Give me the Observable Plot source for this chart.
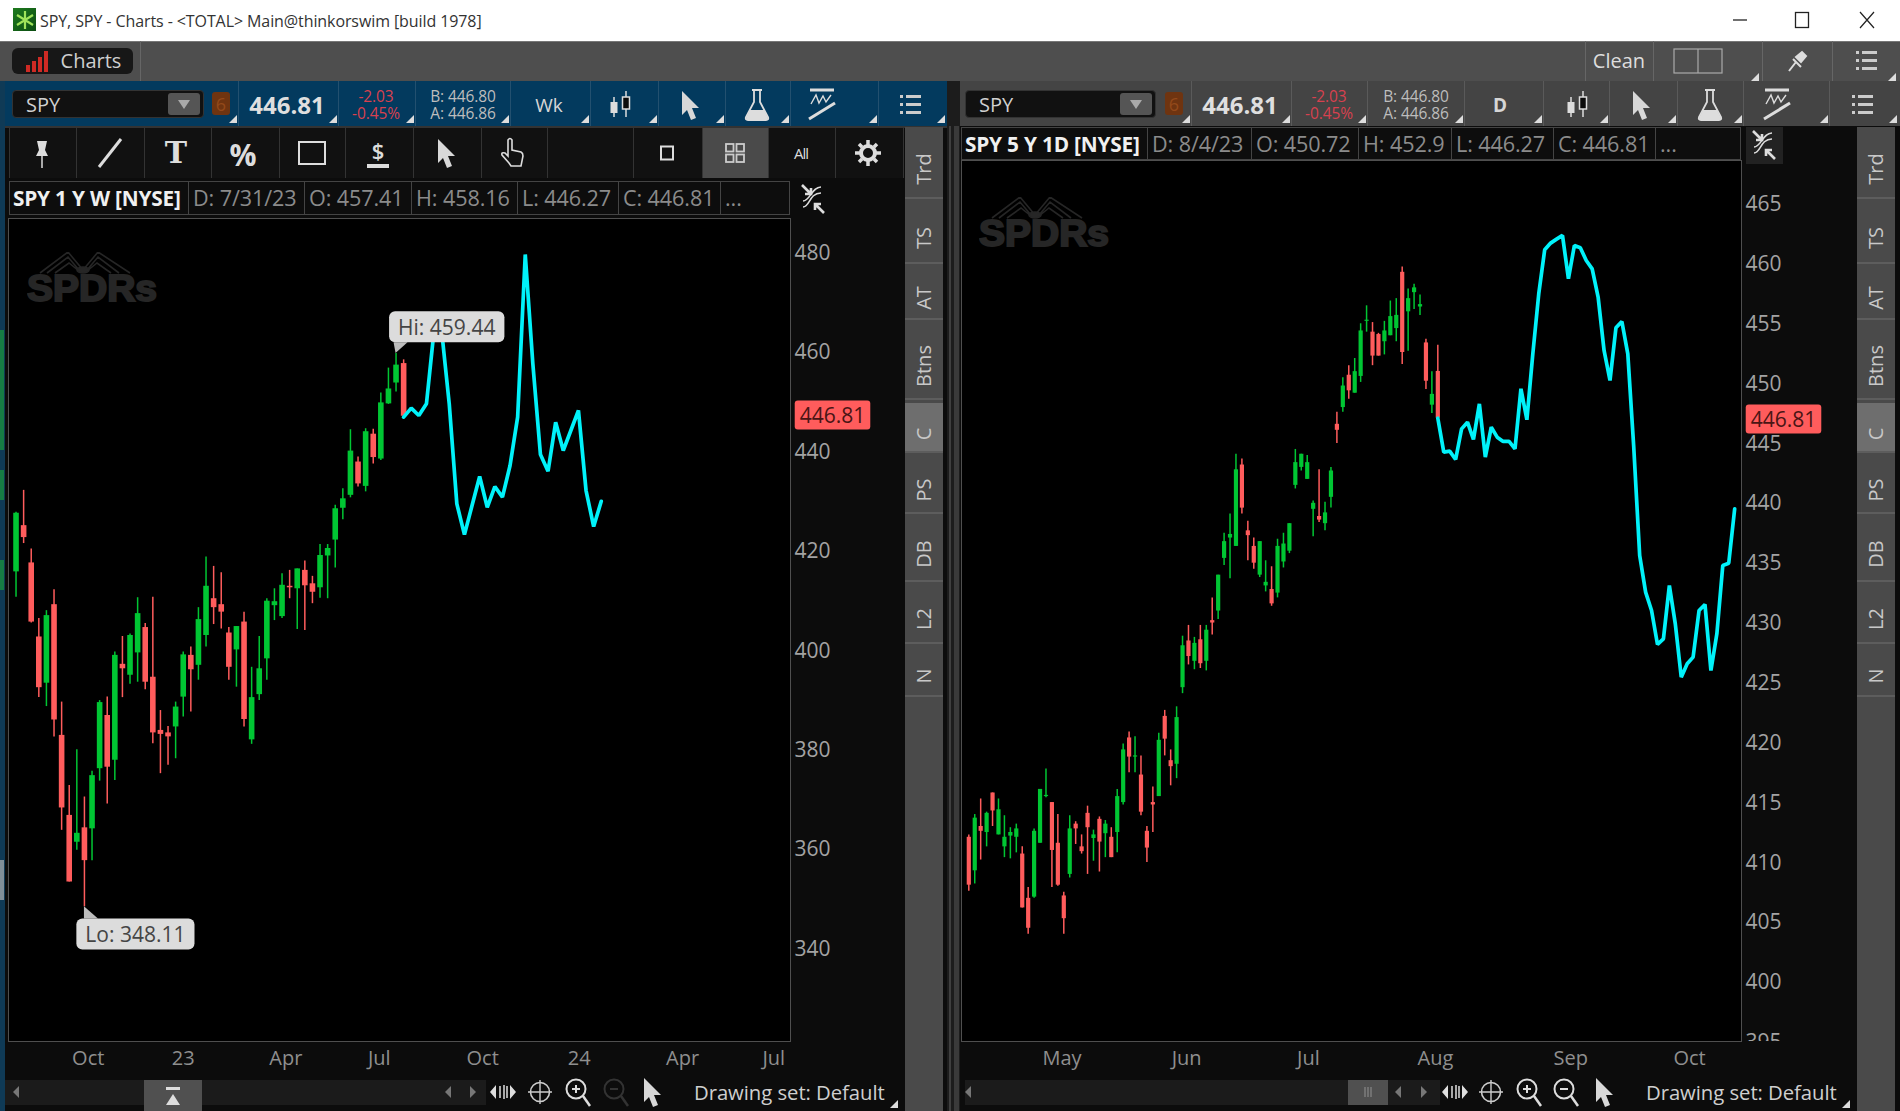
<!DOCTYPE html>
<html><head><meta charset="utf-8">
<script src="https://cdn.jsdelivr.net/npm/d3@7"></script>
<script src="https://cdn.jsdelivr.net/npm/@observablehq/plot@0.6"></script>
<style>
html,body{margin:0;padding:0;background:#0c0c0c}
#app{position:relative;width:1900px;height:1111px;overflow:hidden;font-family:"Open Sans",sans-serif;background:#0c0c0c}
#app div,#app svg.ic{position:absolute}
.t{white-space:nowrap;line-height:1}
.c{transform:translate(-50%,-50%)}
</style></head><body><div id="app"></div>
<script>
// ---------- Left chart: SPY 1 Y W ----------
const wkOpen=[415.5,424.8,417.3,402.4,393.1,408.9,382.6,366.5,361.1,364.0,363.8,375.9,386.6,377.6,396.9,394.7,399.2,404.3,394.3,383.6,383.1,384.3,390.3,398.7,396.7,402.7,410.1,408.9,403.2,399.8,405.4,381.7,390.8,398.0,408.7,406.5,412.6,412.1,415.8,413.1,412.3,418.7,421.9,428.3,430.9,437.6,432.7,443.2,438.2,449.3,453.5,457.41];
const wkHigh=[427.5,431.9,420.1,406.1,407.7,411.9,389.3,372.5,379.7,370.2,375.4,389.6,390.3,399.4,402.5,403.0,410.3,405.1,410.4,387.6,384.4,389.3,399.4,400.4,408.3,418.5,416.6,415.3,404.3,404.5,407.4,396.3,402.5,410.1,412.1,415.1,415.8,416.1,417.7,414.6,421.0,421.0,428.9,432.2,444.1,438.6,444.3,444.2,451.5,456.5,459.44,458.16];
const wkLow=[410.4,421.2,405.2,390.2,388.4,382.3,363.5,353.1,359.5,348.11,357.4,373.4,368.8,373.5,390.2,392.9,393.3,391.8,380.9,374.9,376.6,377.9,386.3,387.3,393.7,400.4,404.9,404.0,393.7,392.3,384.3,380.8,389.6,393.7,405.7,406.1,410.1,403.9,403.7,409.1,410.2,410.1,416.3,426.0,430.4,432.6,431.6,437.2,437.9,449.2,451.7,446.27];
const wkClose=[427.3,422.4,405.4,392.2,406.7,385.7,368.0,353.1,362.9,357.4,374.5,389.2,376.2,398.7,396.0,402.7,407.1,393.3,383.1,382.8,382.3,388.3,398.8,395.8,405.9,412.6,408.3,407.4,396.3,404.5,385.8,390.2,396.0,409.6,409.5,412.8,412.3,416.1,412.7,411.4,418.8,420.2,428.2,430.2,439.8,433.2,443.7,438.5,449.5,452.3,457.1,446.81];
const wkProjection=[446.63,448.44,446.96,449.31,464.06,464.0,449.31,429.19,423.0,428.85,434.68,428.5,432.67,430.53,436.9,446.63,479.36,457.36,439.1,435.76,445.62,439.92,443.94,447.97,431.87,424.63,429.7];
const wkTickIndex=[9.5,22,35.5,47.8,61.4,74.1,87.7,99.7];
const wkTickLabel=["Oct","23","Apr","Jul","Oct","24","Apr","Jul"];
const wkPriceTicks=[340,360,380,400,420,440,460,480];

// ---------- Right chart: SPY 5 Y 1D ----------
const dOpen=[411.8,409.0,412.7,412.2,415.5,412.0,411.0,411.9,411.8,410.4,406.7,406.8,411.3,415.2,414.7,411.3,406.9,408.7,412.9,411.0,413.8,411.7,413.3,412.1,411.8,412.2,414.7,420.1,418.5,417.0,412.3,414.7,415.2,421.9,418.2,417.9,424.3,428.2,426.5,428.3,426.5,429.9,430.7,435.1,436.8,436.1,442.9,437.4,436.1,433.7,432.8,432.5,432.2,434.8,435.7,441.2,442.7,441.7,439.2,438.6,438.0,440.2,446.3,447.7,450.4,448.9,450.3,454.9,454.0,453.8,453.2,453.7,454.3,459.0,455.7,457.3,456.1,453.1,447.9,450.72];
const dHigh=[412.0,413.7,415.0,413.9,415.5,415.0,413.6,412.6,412.9,411.0,407.6,412.5,415.8,417.5,414.7,413.7,407.2,413.6,413.1,412.0,414.4,412.4,413.5,413.2,412.6,415.8,419.6,420.6,420.2,418.6,412.7,416.0,420.5,422.4,419.1,422.7,428.6,429.5,428.5,429.5,429.5,431.8,433.7,437.2,438.8,443.8,443.4,438.2,436.8,436.5,434.9,434.4,436.7,437.2,438.0,444.2,443.8,443.7,439.9,442.5,439.8,442.7,447.3,450.2,451.2,451.8,454.7,456.2,454.8,453.9,454.9,456.6,456.8,459.44,457.6,458.0,457.1,453.4,450.7,452.9];
const dLow=[407.3,407.9,409.9,411.0,412.7,412.0,410.1,410.0,410.5,405.9,403.7,406.7,411.3,415.1,407.6,407.7,403.7,408.4,411.2,410.4,408.7,409.8,408.9,410.1,410.1,410.5,414.5,417.2,417.2,413.6,409.7,412.2,415.2,418.6,416.1,416.7,423.8,426.2,425.8,425.9,425.7,428.7,430.0,434.5,433.4,436.1,438.8,434.9,434.2,433.5,432.3,431.1,431.8,434.3,435.5,440.9,442.4,441.7,436.9,438.1,437.4,439.3,444.7,447.3,448.4,448.9,449.8,454.0,451.2,452.0,452.1,453.7,453.2,451.3,452.4,455.9,455.4,449.2,447.2,446.27];
const dClose=[407.8,413.4,412.3,413.8,414.0,414.1,411.8,412.2,412.5,405.9,404.2,412.3,415.8,415.3,410.7,407.8,405.0,412.5,412.5,410.6,412.6,412.0,411.4,412.9,410.1,415.2,419.1,418.5,418.6,413.9,410.9,414.5,419.9,420.0,417.7,421.8,427.8,426.9,428.0,426.3,429.1,429.7,433.7,436.5,437.1,442.5,439.3,437.0,434.7,436.5,433.1,431.3,436.1,436.3,438.0,443.1,443.8,443.1,439.7,438.3,438.9,442.4,445.8,449.5,449.1,450.7,454.1,455.0,452.0,452.0,454.1,455.3,455.4,452.3,456.8,457.7,456.3,449.9,448.8,446.81];
const dProjection=[446.81,443.98,444.06,443.36,445.92,446.48,445.03,448.01,443.56,446.06,445.23,444.87,444.87,444.25,449.27,446.68,452.19,457.2,460.88,461.44,461.77,462.08,458.46,461.24,461.05,459.99,459.29,456.93,452.47,449.96,454.36,454.89,452.19,444.39,435.34,432.28,430.75,427.91,428.38,432.84,429.63,425.18,426.29,426.85,430.75,431.25,425.73,428.8,434.51,434.7,439.24];
const dTickIndex=[15.7,36.7,57.2,78.6,101.4,121.4];
const dTickLabel=["May","Jun","Jul","Aug","Sep","Oct"];
const dPriceTicks=[395,400,405,410,415,420,425,430,435,440,445,450,455,460,465];

const GREEN="#00c633", RED="#ff5c5c", CYAN="#00f2fa", LAST=446.81;
const app=document.getElementById("app");

function box(x,y,w,h,css="",html=""){const d=document.createElement("div");
  d.style.cssText=`left:${x}px;top:${y}px;width:${w}px;height:${h}px;${css}`;d.innerHTML=html;app.appendChild(d);return d;}
function txt(x,y,s,css="",center=true){const d=document.createElement("div");d.className="t"+(center?" c":"");
  d.style.cssText=`left:${x}px;top:${y}px;${css}`;if(!center)d.style.transform="translateY(-50%)";d.textContent=s;app.appendChild(d);return d;}
function ic(cx,cy,w,h,inner){const ns="http://www.w3.org/2000/svg";const s=document.createElementNS(ns,"svg");
  s.setAttribute("class","ic");s.setAttribute("width",w);s.setAttribute("height",h);s.setAttribute("viewBox",`${-w/2} ${-h/2} ${w} ${h}`);
  s.style.left=(cx-w/2)+"px";s.style.top=(cy-h/2)+"px";s.innerHTML=inner;app.appendChild(s);return s;}
const cursor=(f="#d8d8d8")=>`<path d="M-8,-14 L9,3 L2,3 L6,13 L1,15 L-3,5 L-8,10 Z" fill="${f}"/>`;
const listI=`<g fill="#ccc"><rect x="-10" y="-10" width="3" height="3"/><rect x="-10" y="-2" width="3" height="3"/><rect x="-10" y="6" width="3" height="3"/><rect x="-4" y="-10" width="15" height="3"/><rect x="-4" y="-2" width="15" height="3"/><rect x="-4" y="6" width="15" height="3"/></g>`;
const candleI=`<g stroke="#ddd" stroke-width="1.5"><path d="M-6,-8V12M6,-14V12"/></g><rect x="-9.5" y="-3" width="7" height="11" fill="#ddd"/><rect x="2.5" y="-8" width="7" height="12" fill="#0c0c0c" stroke="#ddd" stroke-width="1.5"/>`;
const flaskI=`<path d="M-5,-15H5M-3,-15V-3L-11,12Q-12,15 -9,15H9Q12,15 11,12L3,-3V-15" fill="none" stroke="#ddd" stroke-width="1.8"/><path d="M-7,5H7L11,13Q11,15 9,15H-9Q-11,15 -11,13Z" fill="#ddd"/>`;
const studyI=`<path d="M-12,-15H12" stroke="#ddd" stroke-width="3"/><path d="M-11,-1L-6,-10L-3,-2L1,-9L4,-3L9,-10" fill="none" stroke="#ddd" stroke-width="1.4"/><path d="M-13,14L13,-2" stroke="#ddd" stroke-width="3"/>`;
const corner=(x,y)=>ic(x,y,8,8,`<path d="M4,-4V4H-4Z" fill="#ddd"/>`);
const swapI=`<path d="M-10,8C-3,8 -4,-6 8,-6M-10,2C-3,2 -1,-12 8,-12" fill="none" stroke="#ddd" stroke-width="1.6"/><path d="M-11,-14L-3,-6M-8,-5H-2V-11" stroke="#ddd" fill="none" stroke-width="2.6"/><path d="M11,14L3,6M8,5H2V11" stroke="#ddd" fill="none" stroke-width="2.6"/>`;
const magI=(sign,col)=>`<circle cx="-2" cy="-3" r="9.5" fill="none" stroke="${col}" stroke-width="2"/><path d="M5,4L12,14" stroke="${col}" stroke-width="2.5"/><path d="M-6,-3H2${sign==="+"?"M-2,-7V1":""}" stroke="${col}" stroke-width="2"/>`;

// window chrome
box(0,0,1900,41,"background:#fff");
box(13,8,23,23,"background:linear-gradient(135deg,#1e7a1e,#0b4d12);");
ic(24.5,19.5,20,20,`<path d="M0,-9V9M-8,-5L8,5M-8,5L8,-5" stroke="#9fe35a" stroke-width="2.2"/>`);
txt(40,21,"SPY, SPY - Charts - <TOTAL> Main@thinkorswim [build 1978]","font-family:'Open Sans';font-size:16px;color:#333;letter-spacing:-.09px",false);
ic(1739.5,20,16,16,`<path d="M-7,0H7" stroke="#222" stroke-width="1.3"/>`);
ic(1801.5,20,16,18,`<rect x="-6.5" y="-7.5" width="13" height="15" fill="none" stroke="#222" stroke-width="1.3"/>`);
ic(1867,20,18,18,`<path d="M-7,-8L7,8M7,-8L-7,8" stroke="#222" stroke-width="1.2"/>`);
box(0,41,1900,40,"background:#4e4e4e");
box(0,41,1900,1,"background:#777");
box(12,48,121,26,"background:#171717;border-radius:6px");
ic(38,61,26,24,`<g fill="#cf2a24"><rect x="-12" y="4" width="4" height="7"/><rect x="-6" y="0" width="4" height="11"/><rect x="0" y="-4" width="4" height="15"/><rect x="6" y="-10" width="4" height="21"/></g>`);
txt(91,61,"Charts","font-size:20px;color:#cfcfcf");
[140,1585,1653,1762,1832].forEach(x=>box(x,41,1,40,"background:#666"));
txt(1619,61,"Clean","font-size:20px;color:#ddd");
ic(1698,61,50,26,`<rect x="-24" y="-12" width="48" height="24" fill="none" stroke="#aaa" stroke-width="1.2"/><path d="M0,-12V12" stroke="#aaa" stroke-width="1.2"/>`);
ic(1797,61,22,22,`<path d="M-8,10L-1,1M-4,-2L4,6M-1,-4L5,-9L9,-5L4,1Z" stroke="#ddd" fill="#ddd" stroke-width="2"/>`);
ic(1866,61,24,24,listI);corner(1755,77);corner(1892,77);

// background strips
box(0,81,5,1030,"background:#0f3a56");
[[0,330,4,120,"#1aa03a"],[0,470,4,30,"#1aa03a"],[0,560,4,30,"#1aa03a"],[0,860,4,40,"#bbb"]].forEach(([x,y,w,h,c])=>box(x,y,w,h,"background:"+c+";opacity:.65"));
box(5,125,942,3,"background:#333");
box(947,81,13,1030,"background:#1c1c1c");
box(949,126,2,985,"background:#3f3f3f");box(954,126,5,985,"background:#3a3a3a");

function toolbar(o){
  const {bx,by,bw,bh,bg,sym,six,price,chg,ba,per,perX,seps,candle,cur,flask,study,list,sep}=o;
  box(bx,by,bw,bh,"background:"+bg);
  box(sym[0],by+9,sym[1],28,"background:#111;border:1px solid #333;border-radius:4px;box-sizing:border-box");
  txt(sym[0]+14,by+24,"SPY","font-size:20px;color:#d0d0d0",false);
  box(sym[0]+sym[1]-36,by+12,32,22,"background:#555;border-radius:3px");
  ic(sym[0]+sym[1]-20,by+23,14,10,`<path d="M-6,-4H6L0,5Z" fill="#aaa"/>`);
  box(six,by+11,18,23,"background:#6f3410;border-radius:3px");
  txt(six+9,by+23,"6","font-size:18px;color:#93491a");
  txt(price,by+24,"446.81","font-size:24px;font-weight:700;color:#dfdfdf");
  txt(chg,by+15.5,"-2.03","font-size:15.5px;color:#d8414f;letter-spacing:-.1px");
  txt(chg,by+32.5,"-0.45%","font-size:15.5px;color:#d8414f;letter-spacing:-.1px");
  txt(ba,by+15.5,"B: 446.80","font-size:15.5px;color:#bdbdbd;letter-spacing:-.1px");
  txt(ba,by+32.5,"A: 446.86","font-size:15.5px;color:#bdbdbd;letter-spacing:-.1px");
  txt(perX,by+24,per,"font-size:19px;color:#d6d6d6;font-weight:"+(per==="D"?700:400));
  seps.forEach(x=>box(x,by,1,bh,"background:"+sep));
  ic(candle,by+24,24,32,candleI);ic(cur,by+24,22,32,cursor());ic(flask,by+24,28,34,flaskI);ic(study,by+24,30,36,studyI);ic(list,by+24,24,24,listI);
  seps.forEach(x=>corner(x-5,by+38));
}
toolbar({bx:5,by:81,bw:942,bh:45,bg:"#033a5e",sep:"#23506f",sym:[12,192],six:212,price:287,chg:376,ba:463,per:"Wk",perX:549,seps:[238,338,415,510,590,658,725,790,878],candle:620,cur:690,flask:757,study:822,list:910});
corner(941,119);
toolbar({bx:960,by:81,bw:940,bh:45,bg:"#444",sep:"#5a5a5a",sym:[965,191],six:1165,price:1240,chg:1329,ba:1416,per:"D",perX:1500,seps:[1191,1291,1367,1464,1543,1609,1677,1743,1829],candle:1577,cur:1641,flask:1710,study:1777,list:1862});
corner(1893,119);

// drawing tools row (left chart only)
box(9,128,894,50,"background:#111");
[9,76,144,211,279,345,413,481,547,633,702,768,835,903].forEach(x=>box(x,128,1,50,"background:#333"));
box(703,128,65,50,"background:#4a4a4a");
const rowY=153;
ic(42,rowY,18,32,`<path d="M-5,-12H5L3,-3L6,3H-6L-3,-3Z" fill="#ddd"/><path d="M0,3V15" stroke="#ddd" stroke-width="1.5"/>`);
ic(110,rowY,30,36,`<path d="M-11,14L11,-14" stroke="#ddd" stroke-width="3"/>`);
txt(176,rowY,"T","font-family:'DejaVu Serif';font-weight:700;font-size:30px;color:#ddd");
txt(243,rowY+2,"%","font-size:30px;font-weight:700;color:#ddd");
ic(312,rowY,30,28,`<rect x="-13" y="-11" width="26" height="22" fill="none" stroke="#ddd" stroke-width="2"/>`);
txt(378,rowY-3,"$","font-size:22px;color:#ddd;font-weight:600");
ic(378,rowY+13,22,6,`<rect x="-11" y="-2" width="22" height="4" fill="#ddd"/>`);
ic(446,rowY,22,32,cursor());
ic(512,rowY,26,34,`<path d="M-3,10L-10,2Q-11,-1 -7,0L-4,3V-13Q-2,-16 0,-13V-3L9,-1Q11,0 11,3L9,13H-1Z" fill="#111" stroke="#ddd" stroke-width="1.6"/>`);
ic(667,rowY,16,18,`<rect x="-6" y="-6.5" width="12" height="13" fill="none" stroke="#ddd" stroke-width="2"/>`);
ic(735,rowY,22,24,`<g fill="none" stroke="#ccc" stroke-width="1.8"><rect x="-9" y="-9" width="7.5" height="7.5"/><rect x="1.5" y="-9" width="7.5" height="7.5"/><rect x="-9" y="1.5" width="7.5" height="7.5"/><rect x="1.5" y="1.5" width="7.5" height="7.5"/></g>`);
txt(801,rowY,"All","font-size:15px;color:#ddd;letter-spacing:-1px");
ic(868,rowY,28,28,`<circle r="7" fill="none" stroke="#ddd" stroke-width="4"/><g stroke="#ddd" stroke-width="3.5"><path d="M0,-13V-8M0,13V8M-13,0H-8M13,0H8M-9,-9L-6,-6M9,9L6,6M-9,9L-6,6M9,-9L6,-6"/></g>`);

// side tabs
function tabs(x0){
  box(x0,127,38,984,"background:#4a4a4a");
  const t=[["Trd",127,197],["TS",199,262],["AT",264,318],["Btns",320,398],["C",403,451],["PS",453,512],["DB",514,580],["L2",582,642],["N",643,695]];
  t.forEach(([s,a,b])=>{ if(s==="C")box(x0,a,38,b-a,"background:#6e6e6e");
    box(x0,b,38,2,"background:#5d5d5d");
    const d=txt(x0+19,(a+b)/2+7,s,"font-size:20px;color:#c8c8c8");d.style.transform="translate(-50%,-50%) rotate(-90deg)";});
}
tabs(905);tabs(1857);

function chart(o){
  const {left,top,width,height,mR,mB,xd,yd,open,high,low,close,proj,tickIdx,tickLab,yt,bodyW,wickW,tickDy,callouts,badgeDy}=o;
  const candles=open.map((v,i)=>({i,open:v,high:high[i],low:low[i],close:close[i],col:close[i]>=v?GREEN:RED}));
  const line=proj.map((v,k)=>({i:open.length-1+k,v}));
  const marks=[
    Plot.frame({fill:"#000",stroke:"#4f4f4f"}),
    Plot.ruleX(candles,{x:"i",y1:"low",y2:"high",stroke:"col",strokeWidth:wickW}),
    Plot.ruleX(candles,{x:"i",y1:"open",y2:"close",stroke:"col",strokeWidth:bodyW}),
    Plot.lineY(line,{x:"i",y:"v",stroke:CYAN,strokeWidth:3.7,curve:"linear",strokeLinejoin:"miter"}),
    Plot.axisY(yt,{anchor:"right",tickSize:0,tickPadding:4,label:null,color:"#a3a3a3",fontSize:21,tickFormat:d=>d,dy:tickDy}),
    Plot.axisX(tickIdx,{anchor:"bottom",tickSize:0,tickPadding:9,label:null,color:"#8f8f8f",fontSize:20,tickFormat:d=>tickLab[tickIdx.indexOf(d)]}),
    ...callouts.map(c=>Plot.text([c],{x:"i",y:"v",text:"s",dx:c.dx,dy:c.dy,fill:"#454545",fontSize:21,className:"callout"})),
    Plot.text([{s:"446.81"}],{x:()=>xd[1],y:()=>LAST,text:"s",dx:42,dy:badgeDy,fill:"#4a1515",fontSize:21,className:"badge"})
  ];
  const p=Plot.plot({width,height,marginLeft:0,marginTop:0,marginRight:mR,marginBottom:mB,
    x:{domain:xd},y:{domain:yd},
    style:{background:"#0c0c0c",fontFamily:"'Open Sans'",overflow:"visible"},marks});
  p.style.position="absolute";p.style.left=left+"px";p.style.top=top+"px";
  app.appendChild(p);
  const ns="http://www.w3.org/2000/svg";
  const pos=(g,t)=>{const b=t.getBBox();
    const tr=t.transform.baseVal.consolidate(),gt=g.transform.baseVal.consolidate();
    return {X:b.x+(tr?tr.matrix.e:0)+(gt?gt.matrix.e:0),Y:b.y+(tr?tr.matrix.f:0)+(gt?gt.matrix.f:0),W:b.width,H:b.height};};
  p.querySelectorAll("g.callout").forEach((g,k)=>{
    const {X,Y,W,H}=pos(g,g.querySelector("text")),c=callouts[k];
    const ax=p.scale("x").apply(c.i),ay=p.scale("y").apply(c.v);
    const r=document.createElementNS(ns,"rect");
    r.setAttribute("x",X-9);r.setAttribute("y",Y-1.5);r.setAttribute("width",W+18);r.setAttribute("height",H+3);r.setAttribute("rx",6);r.setAttribute("fill","#dcdcdc");
    const tri=document.createElementNS(ns,"polygon");
    const edge=c.dy>0?Y-1.5:Y+H+1.5;
    tri.setAttribute("points",`${ax},${ay} ${ax+c.tip[0]},${edge} ${ax+c.tip[1]},${edge}`);tri.setAttribute("fill","#bdbdbd");
    p.insertBefore(tri,g);p.insertBefore(r,g);
  });
  p.querySelectorAll("g.badge").forEach(g=>{
    const {X,Y,W,H}=pos(g,g.querySelector("text"));
    const r=document.createElementNS(ns,"rect");
    r.setAttribute("x",X-5);r.setAttribute("y",Y-.5);r.setAttribute("width",W+10);r.setAttribute("height",H+1);r.setAttribute("rx",3);r.setAttribute("fill",RED);
    p.insertBefore(r,g);
  });
  return p;
}
chart({left:8,top:218,width:895,height:857,mR:113,mB:34,xd:[-0.99,101.9],yd:[321.01,486.6],
  open:wkOpen,high:wkHigh,low:wkLow,close:wkClose,proj:wkProjection,tickIdx:wkTickIndex,tickLab:wkTickLabel,yt:wkPriceTicks,
  bodyW:5.6,wickW:1.5,tickDy:2,badgeDy:0,
  callouts:[{i:50,v:459.44,s:"Hi: 459.44",dx:50.7,dy:-25.5,tip:[-2,12]},{i:9,v:348.11,s:"Lo: 348.11",dx:51,dy:28.5,tip:[0,14]}]});
chart({left:961,top:160,width:894,height:915,mR:114,mB:34,xd:[-1.23,130.15],yd:[394.74,468.34],
  open:dOpen,high:dHigh,low:dLow,close:dClose,proj:dProjection,tickIdx:dTickIndex,tickLab:dTickLabel,yt:dPriceTicks,
  bodyW:4.2,wickW:1.5,tickDy:4,badgeDy:2,callouts:[]});
box(1742,1041,113,34,"background:#0c0c0c;overflow:hidden"); // clips the cut-off lowest price label
// x labels of the right chart sit in this row: redraw is not needed, the box only spans the axis column

// header cells
function header(y,h,edges,labels,endX){
  box(edges[0],y,endX-edges[0],h,"background:#0d0d0d;border:1px solid #444;box-sizing:border-box");
  edges.slice(1).forEach(x=>box(x,y,1,h,"background:#444"));
  labels.forEach((s,k)=>{const x=edges[k]+(k===0?4:5);
    txt(x,y+h/2,s,k===0?"font-size:20.8px;font-weight:700;color:#f0f0f0;letter-spacing:-.2px":"font-size:21.6px;color:#8b8b8b;letter-spacing:-.1px",false);});
}
header(181,34,[9,188,304,411,517,618,720],["SPY 1 Y W [NYSE]","D: 7/31/23","O: 457.41","H: 458.16","L: 446.27","C: 446.81","..."],790);
box(790,178,115,40,"background:#0c0c0c");
ic(813,199,30,34,swapI);
header(127,33,[961,1147,1251,1358,1451,1553,1655],["SPY 5 Y 1D [NYSE]","D: 8/4/23","O: 450.72","H: 452.9","L: 446.27","C: 446.81","..."],1741);
box(1746,127,37,37,"background:#222");
ic(1764,145,30,34,swapI);

// watermark
function spdr(x,y){ic(x+70,y+35,140,70,`<g transform="translate(-70,-35)" fill="none" stroke="#262626" stroke-width="1.6">
  <path d="M13,21L41,0L56,18L71,0L103,21M20,21L41,5L52,18M92,21L71,5L60,18M28,21L42,11L52,19M84,21L70,11L60,19"/>
  <ellipse cx="56" cy="18" rx="6" ry="3" fill="#262626"/></g>
  <text transform="translate(-70,-35)" x="0" y="49" textLength="130" lengthAdjust="spacingAndGlyphs" font-family="Liberation Sans" font-weight="700" font-size="36" fill="#262626" stroke="#262626" stroke-width="2">SPDRs</text>`);}
spdr(27,252);spdr(979,197);

// bottom bars
function bottom(o){
  box(o.bx,1080,o.bw,25,"background:#1b1b1b");
  ic(o.la,1092,8,14,`<path d="M3,-6V6L-3,0Z" fill="#777"/>`);
  ic(o.r1,1092,8,14,`<path d="M3,-6V6L-3,0Z" fill="#777"/>`);
  ic(o.r2,1092,8,14,`<path d="M-3,-6V6L3,0Z" fill="#777"/>`);
  ic(o.t1,1092,28,20,`<path d="M-13,0L-7,-7V7ZM13,0L7,-7V7Z" fill="#ddd"/><path d="M-3,-6V6M1,-7V7M4,-6V6" stroke="#ddd" stroke-width="1.5"/>`);
  ic(o.t2,1092,26,26,`<circle r="9.5" fill="none" stroke="#ccc" stroke-width="1.6"/><path d="M0,-12V12M-12,0H12" stroke="#ccc" stroke-width="1.4"/>`);
  ic(o.t3,1092,28,32,magI("+","#ddd"));
  ic(o.t4,1092,28,32,magI("-",o.dim));
  ic(o.t5,1092,22,32,cursor());
  txt(o.tx,1092,"Drawing set: Default","font-size:20.3px;color:#cfcfcf;letter-spacing:-.05px",false);
  corner(o.tx+200,1104);
}
bottom({bx:5,bw:481,la:16,r1:448,r2:473,t1:503,t2:540,t3:578,t4:616,t5:652,tx:694,dim:"#333"});
box(144,1080,58,31,"background:#505050");
ic(173,1096,20,22,`<rect x="-7" y="-9" width="14" height="3" fill="#ddd"/><path d="M0,-2L7,9H-7Z" fill="#ddd"/>`);
bottom({bx:965,bw:475,la:968,r1:1398,r2:1424,t1:1455,t2:1491,t3:1529,t4:1566,t5:1604,tx:1646,dim:"#ddd"});
box(1348,1080,40,25,"background:#505050");
ic(1368,1092,14,14,`<path d="M-3,-5V5M0,-5V5M3,-5V5" stroke="#888" stroke-width="1.2"/>`);
</script></body></html>
